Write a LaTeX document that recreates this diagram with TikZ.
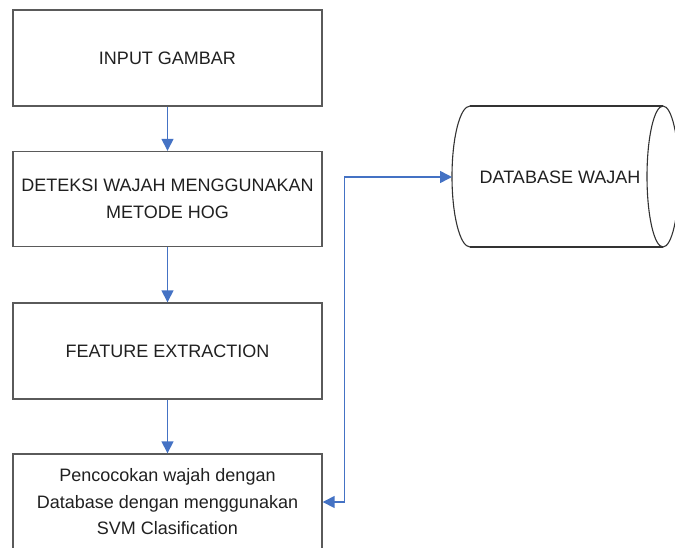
\documentclass[tikz,border=0pt]{standalone}
\usepackage{fontspec}
\setmainfont{Liberation Sans}
\usetikzlibrary{arrows.meta,positioning}
\definecolor{arrblue}{HTML}{4472C4}
\definecolor{boxgray}{HTML}{5A5A5A}
\definecolor{txt}{HTML}{202020}
\begin{document}
\begin{tikzpicture}[x=1pt,y=-1pt,
  stepbox/.style={draw=boxgray,line width=1.4pt,rectangle,minimum width=309pt,minimum height=96pt,
    inner sep=0pt,align=center,text=txt,font=\fontsize{18}{26.5}\selectfont},
  flow/.style={draw=arrblue,line width=1.5pt,-{Triangle[length=12pt,width=12pt]}},
  both/.style={draw=arrblue,line width=1.5pt,{Triangle[length=12pt,width=12pt]}-{Triangle[length=12pt,width=12pt]}},
  dbline/.style={draw=black!80,line width=1.1pt}]
\useasboundingbox (0,0) rectangle (675,547);
\clip (0,0) rectangle (675,547);
\node[stepbox] (n1) at (167.5,58) {INPUT GAMBAR};
\node[stepbox,minimum height=95pt] (n2) at (167.5,199) {DETEKSI WAJAH MENGGUNAKAN\\METODE HOG};
\node[stepbox] (n3) at (167.5,351) {FEATURE EXTRACTION};
\node[stepbox] (n4) at (167.5,502) {Pencocokan wajah dengan\\Database dengan menggunakan\\SVM Clasification};
% database cylinder
\draw[dbline] (470,106) -- (663,106);
\draw[dbline] (470,247) -- (663,247);
\draw[dbline] (470,106) arc[start angle=-90,end angle=-270,x radius=18,y radius=70.5];
\draw[dbline] (663,176.5) ellipse[x radius=16,y radius=70.5];
\node[text=txt,font=\fontsize{18}{26}\selectfont] (db) at (560,177) {DATABASE WAJAH};
\coordinate (dbw) at (452,177);
% connectors
\draw[flow] (n1.south) -- (n2.north);
\draw[flow] (n2.south) -- (n3.north);
\draw[flow] (n3.south) -- (n4.north);
\draw[both] (n4.east) -- ++(22,0) |- (dbw);
\end{tikzpicture}
\end{document}
